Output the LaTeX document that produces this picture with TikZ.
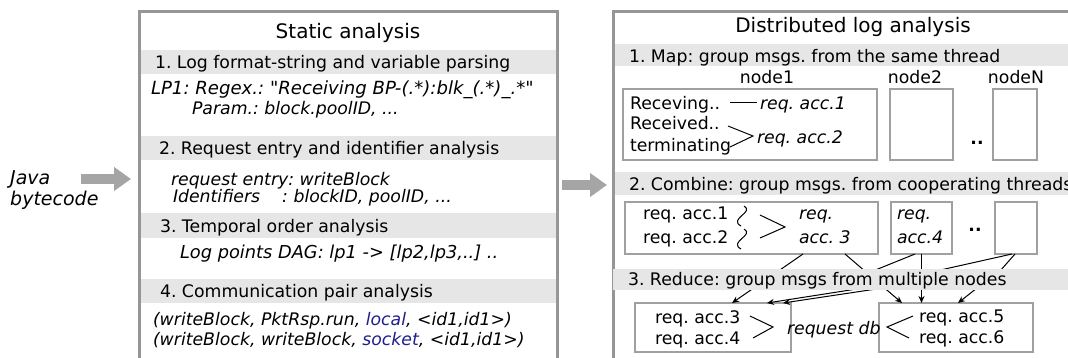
\documentclass[tikz,border=0pt]{standalone}
\usepackage{fontspec}
\setmainfont{DejaVu Sans}[Ligatures=TeXOff]
\usetikzlibrary{arrows.meta}
\definecolor{bargray}{RGB}{230,230,230}
\definecolor{framegray}{RGB}{150,150,150}
\definecolor{boxgray}{RGB}{160,160,160}
\definecolor{arrowgray}{RGB}{165,165,165}
\definecolor{dblue}{RGB}{30,30,140}
\newcommand\fsN{\fontsize{17.3}{21}\selectfont}
\newcommand\fsL{\fontsize{18.1}{21}\selectfont}
\newcommand\fsT{\fontsize{20}{24}\selectfont}
\newcommand\fsJ{\fontsize{19}{23}\selectfont}
\frenchspacing
\begin{document}
\frenchspacing
\begin{tikzpicture}[x=1pt,y=-1pt,
  txt/.style={inner sep=0pt, outer sep=0pt, anchor=west, text height=12.6pt, text depth=0pt, font=\fsN},
  itx/.style={txt, font=\fsN\itshape},
  ctr/.style={txt, anchor=center},
  ttl/.style={inner sep=0pt, anchor=center, text height=14.6pt, text depth=0pt, font=\fsT},
  jtx/.style={inner sep=0pt, anchor=west, text height=13.9pt, text depth=0pt, font=\fsJ\itshape},
  bar/.style={fill=bargray, draw=none},
  frame/.style={draw=framegray, line width=3pt, inner sep=0pt, outer sep=0pt, anchor=north west},
  nbox/.style={draw=boxgray, line width=2pt, inner sep=0pt, outer sep=0pt},
  conn/.style={draw=black, line width=1pt, -{Stealth[length=7pt,width=6pt]}},
  glyphline/.style={draw=black, line width=1pt},
  bigarrow/.style={draw=arrowgray, line width=10pt, -{Triangle[length=17pt,width=23pt]}}
]
\useasboundingbox (0,0) rectangle (1068,358);
\clip (0,0) rectangle (1068,358);

% ---------- static analysis ----------
\fill[bar] (139,50) rectangle (557,74);
\fill[bar] (139,136) rectangle (557,160);
\fill[bar] (139,213) rectangle (557,238);
\fill[bar] (139,279) rectangle (557,303);
\node[frame, minimum width=418pt, minimum height=420pt] (sa) at (139,12) {};

\node[ttl] (tsa) at (348,31) {Static analysis};
\node[txt] (sh1) at (155,62) {1. Log format-string and variable parsing};
\node[itx, font=\fsL\itshape] (lp1) at (151,88) {LP1: Regex.: "Receiving BP-(.*):blk\_(.*)\_.*"};
\node[itx] (par) at (192,108) {Param.: block.poolID, ...};
\node[txt] (sh2) at (159,148) {2. Request entry and identifier analysis};
\node[itx] (ren) at (171,179) {request entry: writeBlock};
\node[itx] (ids) at (173,196) {Identifiers\hspace{22pt}: blockID, poolID, ...};
\node[txt] (sh3) at (160,226) {3. Temporal order analysis};
\node[itx, font=\fontsize{17.8}{21}\selectfont\itshape] (dag) at (180,252) {Log points DAG: lp1 -> [lp2,lp3,..] ..};
\node[txt] (sh4) at (160,291) {4. Communication pair analysis};
\node[itx] (cp1) at (153,319) {(writeBlock, PktRsp.run, \textcolor{dblue}{local}, <id1,id1>)};
\node[itx] (cp2) at (153,339) {(writeBlock, writeBlock, \textcolor{dblue}{socket}, <id1,id1>)};

% ---------- input ----------
\node[jtx] (java1) at (10,178) {Java};
\node[jtx] (java2) at (10,199) {bytecode};
\coordinate (a1s) at (81,179);
\draw[bigarrow, shorten >=8pt] (a1s) -- (a1s -| sa.west);

% ---------- distributed log analysis ----------
\fill[bar] (613,44) rectangle (1070,66);
\fill[bar] (613,172) rectangle (1070,195);
\node[frame, minimum width=500pt, minimum height=420pt] (da) at (613,12) {};

\coordinate (a2c) at (585,185);
\draw[bigarrow, shorten <=5pt, shorten >=6pt] (a2c -| sa.east) -- (a2c -| da.west);

\node[ttl] (tda) at (853,25) {Distributed log analysis};
\node[txt] (dh1) at (629,56) {1. Map: group msgs. from the same thread};
\node[ctr] (lb1) at (767,77) {node1};
\node[ctr] (lb2) at (915,77) {node2};
\node[ctr] (lbN) at (1016,77) {nodeN};

\node[nbox, minimum width=254pt, minimum height=71pt] (n1) at (750,124.5) {};
\node[nbox, minimum width=63pt, minimum height=71pt] (n2) at (921.5,124.5) {};
\node[nbox, minimum width=44pt, minimum height=71pt] (nN) at (1015,124.5) {};
\node[ctr, font=\fsN\bfseries] (dots1) at (977,138) {..};

\node[txt] (rcv) at (630,103) {Receving..};
\node[itx] (ra1) at (760,103) {req. acc.1};
\node[txt] (rcd) at (630,123) {Received..};
\node[txt] (trm) at (630,145) {terminating};
\node[itx] (ra2) at (757,137) {req. acc.2};
\draw[glyphline, shorten <=10pt, shorten >=3pt] (rcv.east) -- (ra1.west);
\coordinate (gt1) at (753,136);
\draw[glyphline] (728,126) -- (gt1) -- (730,147);

\node[txt] (dh2) at (629,184) {2. Combine: group msgs. from cooperating threads};
\node[nbox, minimum width=253pt, minimum height=52pt] (cb) at (751.5,228) {};
\node[nbox, minimum width=61pt, minimum height=52pt] (a4) at (921.5,228) {};
\node[nbox, minimum width=42pt, minimum height=52pt] (ec) at (1016,228) {};
\node[ctr, font=\fsN\bfseries] (dots2) at (975,225) {..};

\node[txt] (c1) at (643,213) {req. acc.1};
\node[txt] (c2) at (643,237) {req. acc.2};
\draw[glyphline] (744,206) .. controls (755,212) and (728,219) .. (741,226);
\draw[glyphline] (744,229) .. controls (755,235) and (728,242) .. (741,249);
\coordinate (gt2) at (785,227);
\draw[glyphline] (760,215) -- (gt2) -- (760,238);
\node[itx] (c3a) at (799,213) {req.};
\node[itx] (c3b) at (799,237) {acc. 3};
\node[itx] (c4a) at (897,213) {req.};
\node[itx] (c4b) at (897,237) {acc.4};

% reduce boxes
\node[nbox, minimum width=156pt, minimum height=49pt] (rl) at (713,327.5) {};
\node[nbox, minimum width=154pt, minimum height=49pt] (rr) at (956,327.5) {};

% connectors (pass behind the Reduce bar)
\draw[conn] ([xshift=51.5pt]cb.south) -- ([xshift=19pt]rl.north);
\draw[conn] ([xshift=93.5pt]cb.south) -- ([xshift=-54pt]rr.north);
\draw[conn] (a4.south) -- (a4.south |- rr.north);
\draw[conn] ([xshift=-6.5pt]a4.south) -- (873,271) -- (863,288) -- ([xshift=54pt]rl.north);
\draw[conn] ([xshift=-4pt]ec.south) -- (936,271) -- (883,288) -- ([xshift=70pt]rl.north);
\draw[conn] ([xshift=-1pt]ec.south) -- (1000,271) -- (977,288) -- ([xshift=2pt]rr.north);

\fill[bar] (613,269) rectangle (1070,290);
\node[txt] (dh3) at (628,279) {3. Reduce: group msgs from multiple nodes};

\node[txt] (r3) at (655,317) {req. acc.3};
\node[txt] (r4) at (655,338) {req. acc.4};
\coordinate (gt3) at (773,327);
\draw[glyphline] (750,316) -- (gt3) -- (753,338);
\node[itx] (rdb) at (787,328) {request db};
\coordinate (lt1) at (887,327);
\draw[glyphline] (913,316) -- (lt1) -- (909,338);
\node[txt] (r5) at (919,316) {req. acc.5};
\node[txt] (r6) at (919,337) {req. acc.6};
\end{tikzpicture}
\end{document}
